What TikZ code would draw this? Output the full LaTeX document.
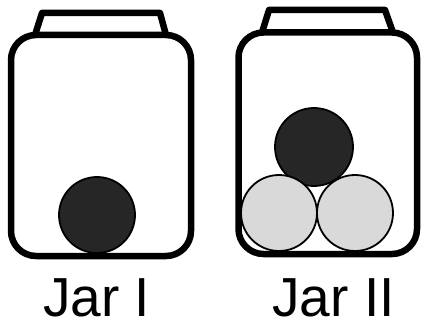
\documentclass[tikz,border=0pt]{standalone}
\usepackage{fontspec}
\setmainfont{Liberation Sans}
\begin{document}
\begin{tikzpicture}[x=1pt,y=-1pt,
  jarline/.style={line width=6.5pt,line join=round,rounded corners=25pt},
  lidline/.style={line width=6.5pt,line join=round},
  darkball/.style={circle,draw=black,line width=1.8pt,fill=darkfill,inner sep=0pt},
  grayball/.style={circle,draw=black,line width=1.8pt,fill=grayfill,inner sep=0pt},
  jarlabel/.style={anchor=base,inner sep=0pt,text depth=0pt,text height=40pt,font=\fontsize{55}{58}\selectfont}]
\definecolor{darkfill}{HTML}{262626}
\definecolor{grayfill}{HTML}{D9D9D9}
\useasboundingbox (0,0) rectangle (421,321);
% Jar I
\draw[lidline] (35,35) -- (42,13) -- (160,13) -- (166,35);
\draw[jarline] (11,35) rectangle (191,256);
\node[darkball,minimum size=76pt] (b1) at (97,215) {};
% Jar II
\draw[lidline] (262,32.5) -- (269,10) -- (385,10) -- (393,32.5);
\draw[jarline] (238.5,32.5) rectangle (417,254);
\node[darkball,minimum size=78pt] (b2) at (314,147) {};
\node[grayball,minimum size=76pt] (g1) at (279,213) {};
\node[grayball,minimum size=76pt] (g2) at (355,213) {};
% labels
\node[jarlabel] (l1) at (96.5,316) {Jar I};
\node[jarlabel] (l2) at (333.5,316) {Jar II};
\end{tikzpicture}
\end{document}
